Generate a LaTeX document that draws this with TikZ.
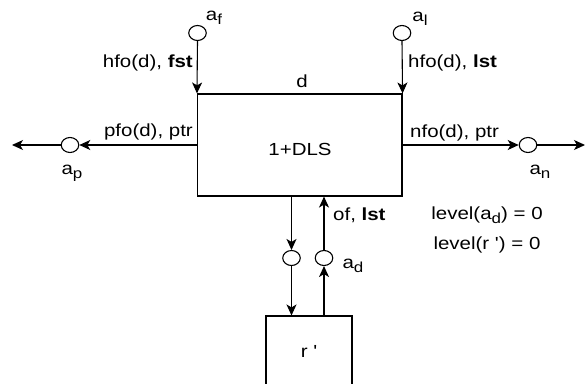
\documentclass[tikz,border=0pt]{standalone}
\usepackage{fontspec}
\setmainfont{Liberation Sans}
\usetikzlibrary{arrows.meta,shapes.geometric}
\newcommand\stx[1]{\scalebox{1.17}[1]{#1}}
\newcommand\sbx[1]{\raisebox{-4pt}{\fontsize{14.5}{15}\selectfont #1}}
\begin{document}
\begin{tikzpicture}[x=1pt,y=-1pt,
  every node/.style={font=\fontsize{17.5}{20}\selectfont, inner sep=0pt},
  blk/.style={draw, line width=1.1pt, fill=white},
  port/.style={draw, ellipse, line width=1.1pt, fill=white, minimum width=17.5pt, minimum height=15pt},
  arr/.style={line width=1.1pt, -{Stealth[length=11pt,width=10pt,inset=3pt]}}]
\useasboundingbox (0,0) rectangle (585,383);
% boxes
\node[blk, minimum width=204.5pt, minimum height=102pt] (box) at (299.75,145) {};
\node (dls) at (300,149) {\stx{1+DLS}};
\node[blk, minimum width=86pt, minimum height=70pt] (rp) at (309,351) {\stx{r \textquotesingle}};
% ports
\node[port] (af) at (197.5,33) {};
\node[port] (al) at (402,33) {};
\node[port] (ap) at (70,145) {};
\node[port] (an) at (528,145) {};
\node[port] (c1) at (291.5,258) {};
\node[port] (ad) at (324,258) {};
\coordinate (lend) at (12,145);
\coordinate (rend) at (585,145);
% connectors
\draw[arr] (af.south) -- (box.north west);
\draw[arr] (al.south) -- (box.north east);
\draw[arr] (box.west) -- (ap.east);
\draw[arr] (ap.west) -- (lend);
\draw[arr] (box.east) -- (an.west);
\draw[arr] (an.east) -- (rend);
\draw[arr] (box.south -| c1) -- (c1.north);
\draw[arr] (c1.south) -- (c1 |- rp.north);
\draw[arr] (ad |- rp.north) -- (ad.south);
\draw[arr] (ad.north) -- (ad |- box.south);
% labels
\node (laf) at (214,18) {\stx{a\sbx{f}}};
\node (lal) at (420,19) {\stx{a\sbx{l}}};
\node (lap) at (72,173) {\stx{a\sbx{p}}};
\node (lan) at (540,172) {\stx{a\sbx{n}}};
\node (lad) at (353,266) {\stx{a\sbx{d}}};
\node (ld) at (302,81) {\stx{d}};
\node[anchor=east] (hf) at (193,63) {\stx{hfo(d), \textbf{fst}}};
\node[anchor=west] (hl) at (408,63) {\stx{hfo(d), \textbf{lst}}};
\node[anchor=east] (pf) at (193,132) {\stx{pfo(d), ptr}};
\node[anchor=west] (nf) at (410,133) {\stx{nfo(d), ptr}};
\node[anchor=west] (of) at (333,215) {\stx{of, \textbf{lst}}};
\node (lv1) at (487,215) {\stx{level(a\sbx{d}) = 0}};
\node (lv2) at (487,245) {\stx{level(r \textquotesingle) = 0}};
\end{tikzpicture}
\end{document}
